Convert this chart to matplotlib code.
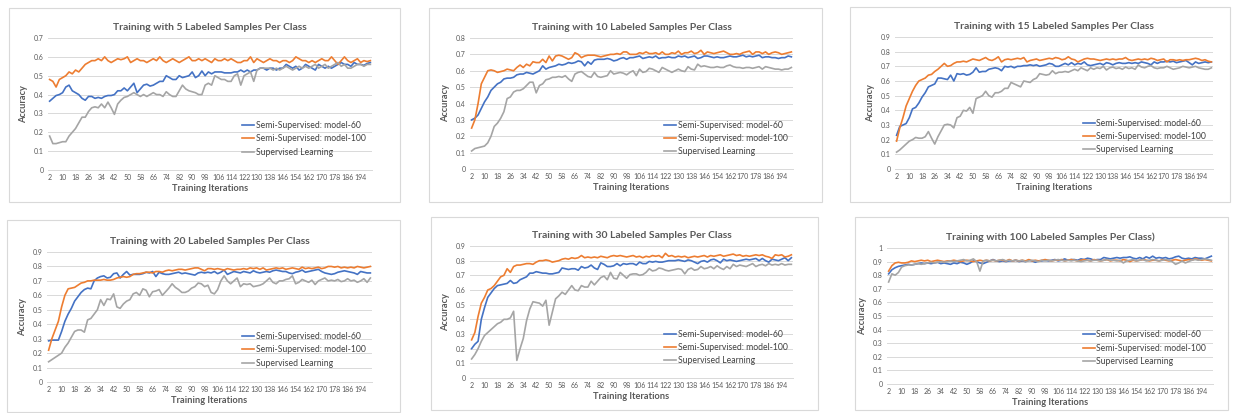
import numpy as np
import matplotlib
matplotlib.use("Agg")
import matplotlib.pyplot as plt
from matplotlib.patches import Rectangle

plt.rcParams['font.family'] = ['Lato', 'DejaVu Sans']

titles = ["Training with 5 Labeled Samples Per Class",
          "Training with 10 Labeled Samples Per Class",
          "Training with 15 Labeled Samples Per Class",
          "Training with 20 Labeled Samples Per Class",
          "Training with 30 Labeled Samples Per Class",
          "Training with 100 Labeled Samples Per Class)"]
series_names = ["Semi-Supervised: model-60", "Semi-Supervised: model-100", "Supervised Learning"]
y_tops = [0.7, 0.8, 0.9, 0.9, 0.9, 1.0]
x_label = "Training Iterations"
y_label = "Accuracy"

# ---- 5 labeled samples ----
m60_5 = [0.365,0.38,0.395,0.40,0.41,0.44,0.45,0.42,0.41,0.40,
         0.38,0.37,0.39,0.39,0.38,0.385,0.38,0.39,0.395,0.395,
         0.40,0.42,0.42,0.435,0.42,0.44,0.46,0.41,0.43,0.45,
         0.455,0.445,0.45,0.46,0.47,0.47,0.50,0.49,0.48,0.48,
         0.50,0.49,0.495,0.50,0.52,0.49,0.50,0.525,0.50,0.52,
         0.51,0.52,0.52,0.52,0.515,0.515,0.515,0.52,0.52,0.53,
         0.52,0.53,0.52,0.53,0.53,0.54,0.54,0.53,0.54,0.54,
         0.53,0.54,0.54,0.56,0.55,0.54,0.55,0.53,0.54,0.56,
         0.55,0.54,0.53,0.56,0.55,0.54,0.55,0.54,0.55,0.56,
         0.57,0.56,0.56,0.55,0.57,0.56,0.56,0.555,0.565,0.57]
m100_5 = [0.48,0.47,0.44,0.48,0.49,0.50,0.52,0.51,0.53,0.52,
          0.54,0.56,0.57,0.58,0.58,0.59,0.58,0.60,0.58,0.57,
          0.58,0.59,0.585,0.59,0.60,0.57,0.58,0.59,0.58,0.58,
          0.57,0.58,0.59,0.58,0.60,0.58,0.57,0.58,0.59,0.58,
          0.57,0.58,0.59,0.60,0.58,0.58,0.59,0.58,0.59,0.58,
          0.57,0.59,0.58,0.58,0.59,0.58,0.59,0.58,0.57,0.57,
          0.58,0.58,0.60,0.57,0.59,0.58,0.57,0.58,0.59,0.58,
          0.58,0.57,0.58,0.58,0.57,0.58,0.60,0.59,0.58,0.58,
          0.57,0.58,0.57,0.58,0.59,0.58,0.58,0.60,0.58,0.56,
          0.58,0.60,0.58,0.57,0.58,0.59,0.57,0.58,0.575,0.58]
sup_5 = [0.18,0.14,0.14,0.145,0.15,0.15,0.18,0.20,0.22,0.25,
         0.28,0.28,0.31,0.33,0.335,0.33,0.35,0.33,0.36,0.33,
         0.295,0.35,0.37,0.385,0.39,0.40,0.41,0.40,0.39,0.40,
         0.39,0.40,0.41,0.40,0.40,0.39,0.415,0.40,0.39,0.39,
         0.42,0.45,0.43,0.42,0.415,0.41,0.40,0.40,0.45,0.46,
         0.45,0.50,0.49,0.48,0.48,0.47,0.47,0.50,0.51,0.45,
         0.50,0.51,0.52,0.47,0.53,0.54,0.54,0.54,0.54,0.53,
         0.54,0.53,0.54,0.55,0.54,0.53,0.54,0.55,0.54,0.55,
         0.54,0.55,0.56,0.54,0.55,0.56,0.54,0.55,0.56,0.57,
         0.55,0.56,0.54,0.54,0.55,0.56,0.56,0.55,0.56,0.56]

# ---- 10 labeled samples ----
m60_10 = [0.30,0.31,0.33,0.37,0.41,0.44,0.48,0.50,0.52,0.53,
          0.55,0.555,0.555,0.56,0.575,0.58,0.58,0.59,0.585,0.58,
          0.59,0.60,0.63,0.61,0.62,0.625,0.63,0.64,0.635,0.64,
          0.65,0.645,0.65,0.66,0.655,0.63,0.655,0.64,0.665,0.67,
          0.67,0.67,0.675,0.67,0.66,0.665,0.675,0.68,0.67,0.68,
          0.68,0.685,0.69,0.675,0.68,0.685,0.68,0.69,0.675,0.68,
          0.68,0.685,0.68,0.68,0.69,0.685,0.69,0.68,0.685,0.69,
          0.675,0.68,0.69,0.69,0.685,0.68,0.685,0.68,0.68,0.685,
          0.69,0.685,0.685,0.69,0.695,0.685,0.69,0.685,0.69,0.695,
          0.68,0.685,0.685,0.68,0.68,0.675,0.68,0.68,0.69,0.685]
m100_10 = [0.25,0.30,0.40,0.52,0.56,0.60,0.605,0.60,0.59,0.595,
           0.60,0.61,0.605,0.60,0.62,0.635,0.62,0.64,0.63,0.655,
           0.65,0.65,0.67,0.65,0.69,0.66,0.69,0.695,0.69,0.68,
           0.67,0.68,0.71,0.70,0.68,0.69,0.695,0.695,0.695,0.69,
           0.685,0.69,0.695,0.70,0.70,0.705,0.70,0.715,0.715,0.70,
           0.70,0.70,0.71,0.705,0.715,0.705,0.705,0.71,0.70,0.715,
           0.70,0.70,0.71,0.705,0.72,0.70,0.71,0.71,0.72,0.705,
           0.71,0.725,0.70,0.715,0.71,0.705,0.71,0.715,0.72,0.71,
           0.70,0.70,0.705,0.70,0.71,0.715,0.72,0.70,0.715,0.715,
           0.705,0.715,0.70,0.71,0.715,0.71,0.70,0.705,0.71,0.715]
sup_10 = [0.11,0.125,0.13,0.135,0.14,0.16,0.20,0.26,0.28,0.31,
          0.35,0.43,0.44,0.47,0.48,0.48,0.49,0.51,0.53,0.53,
          0.465,0.51,0.52,0.545,0.55,0.56,0.56,0.565,0.56,0.57,
          0.55,0.535,0.58,0.59,0.595,0.58,0.565,0.56,0.59,0.565,
          0.56,0.565,0.57,0.60,0.58,0.585,0.59,0.585,0.575,0.59,
          0.60,0.57,0.61,0.59,0.595,0.615,0.61,0.60,0.59,0.62,
          0.61,0.60,0.59,0.60,0.61,0.60,0.595,0.625,0.61,0.605,
          0.64,0.625,0.63,0.625,0.62,0.62,0.625,0.62,0.62,0.63,
          0.635,0.625,0.62,0.62,0.615,0.62,0.62,0.615,0.62,0.625,
          0.61,0.625,0.62,0.615,0.61,0.61,0.605,0.61,0.61,0.62]

# ---- 15 labeled samples ----
m60_15 = [0.23,0.29,0.30,0.31,0.35,0.41,0.42,0.45,0.49,0.52,
          0.56,0.57,0.58,0.62,0.62,0.615,0.61,0.64,0.60,0.65,
          0.645,0.65,0.64,0.645,0.66,0.69,0.66,0.665,0.665,0.68,
          0.685,0.69,0.685,0.67,0.70,0.695,0.70,0.69,0.70,0.70,
          0.705,0.705,0.71,0.705,0.71,0.70,0.705,0.71,0.72,0.715,
          0.70,0.70,0.71,0.72,0.71,0.725,0.71,0.72,0.715,0.73,
          0.71,0.705,0.71,0.715,0.72,0.71,0.725,0.72,0.71,0.72,
          0.725,0.72,0.72,0.725,0.72,0.725,0.72,0.73,0.725,0.72,
          0.71,0.73,0.72,0.73,0.73,0.735,0.73,0.735,0.725,0.73,
          0.735,0.74,0.725,0.71,0.73,0.72,0.725,0.73,0.725,0.73]
m100_15 = [0.19,0.28,0.35,0.43,0.48,0.53,0.57,0.60,0.61,0.62,
           0.64,0.645,0.665,0.68,0.70,0.72,0.70,0.705,0.72,0.73,
           0.73,0.735,0.73,0.74,0.75,0.745,0.74,0.75,0.76,0.745,
           0.74,0.75,0.765,0.73,0.745,0.75,0.745,0.75,0.755,0.75,
           0.76,0.73,0.74,0.745,0.75,0.74,0.745,0.75,0.755,0.75,
           0.76,0.755,0.745,0.75,0.765,0.75,0.745,0.73,0.74,0.75,
           0.755,0.75,0.75,0.745,0.74,0.745,0.75,0.745,0.75,0.745,
           0.75,0.75,0.76,0.745,0.74,0.745,0.75,0.745,0.75,0.745,
           0.755,0.75,0.74,0.745,0.75,0.73,0.745,0.745,0.74,0.745,
           0.74,0.745,0.745,0.75,0.755,0.75,0.74,0.745,0.735,0.73]
sup_15 = [0.115,0.13,0.15,0.17,0.19,0.20,0.215,0.21,0.21,0.22,
          0.255,0.21,0.17,0.22,0.26,0.30,0.305,0.30,0.28,0.35,
          0.36,0.40,0.395,0.42,0.38,0.48,0.49,0.50,0.53,0.50,
          0.49,0.52,0.52,0.53,0.55,0.55,0.59,0.58,0.57,0.56,
          0.60,0.595,0.59,0.61,0.62,0.65,0.645,0.64,0.645,0.67,
          0.65,0.66,0.66,0.665,0.66,0.67,0.68,0.67,0.69,0.68,
          0.67,0.69,0.68,0.69,0.685,0.70,0.675,0.69,0.695,0.685,
          0.69,0.68,0.695,0.685,0.69,0.68,0.71,0.695,0.69,0.70,
          0.705,0.69,0.685,0.69,0.69,0.70,0.69,0.68,0.685,0.69,
          0.70,0.695,0.69,0.695,0.70,0.69,0.685,0.68,0.68,0.69]

# ---- 20 labeled samples ----
m60_20 = [0.285,0.29,0.29,0.29,0.35,0.42,0.47,0.51,0.56,0.59,
          0.62,0.64,0.65,0.645,0.70,0.72,0.73,0.735,0.72,0.725,
          0.75,0.755,0.72,0.745,0.765,0.74,0.745,0.745,0.745,0.75,
          0.76,0.755,0.765,0.73,0.76,0.75,0.745,0.745,0.75,0.755,
          0.76,0.75,0.755,0.75,0.745,0.74,0.755,0.76,0.755,0.76,
          0.755,0.765,0.75,0.76,0.775,0.745,0.755,0.765,0.76,0.755,
          0.765,0.76,0.755,0.77,0.76,0.755,0.76,0.765,0.76,0.77,
          0.775,0.77,0.765,0.765,0.755,0.75,0.76,0.765,0.775,0.76,
          0.765,0.77,0.775,0.78,0.765,0.755,0.75,0.745,0.75,0.76,
          0.765,0.77,0.765,0.76,0.755,0.745,0.765,0.76,0.755,0.755]
m100_20 = [0.22,0.30,0.36,0.42,0.52,0.60,0.645,0.65,0.655,0.67,
           0.685,0.69,0.70,0.70,0.705,0.705,0.705,0.71,0.705,0.705,
           0.71,0.72,0.725,0.73,0.725,0.73,0.745,0.75,0.75,0.755,
           0.76,0.76,0.755,0.765,0.765,0.76,0.77,0.775,0.77,0.775,
           0.78,0.78,0.775,0.78,0.785,0.79,0.79,0.78,0.77,0.785,
           0.785,0.78,0.785,0.78,0.775,0.785,0.78,0.775,0.78,0.78,
           0.785,0.78,0.79,0.785,0.79,0.78,0.79,0.775,0.78,0.785,
           0.79,0.785,0.79,0.78,0.785,0.79,0.785,0.78,0.795,0.785,
           0.79,0.785,0.79,0.795,0.785,0.79,0.80,0.80,0.795,0.80,
           0.79,0.795,0.79,0.795,0.79,0.80,0.795,0.79,0.795,0.80]
sup_20 = [0.14,0.155,0.17,0.185,0.20,0.24,0.27,0.31,0.35,0.36,
          0.36,0.345,0.43,0.44,0.47,0.50,0.57,0.53,0.575,0.57,
          0.61,0.52,0.51,0.54,0.56,0.57,0.61,0.62,0.60,0.645,
          0.635,0.59,0.625,0.63,0.64,0.60,0.625,0.65,0.68,0.655,
          0.64,0.62,0.62,0.63,0.65,0.66,0.685,0.68,0.66,0.67,
          0.62,0.61,0.64,0.70,0.735,0.70,0.68,0.70,0.72,0.66,
          0.68,0.675,0.68,0.66,0.665,0.67,0.68,0.70,0.72,0.69,
          0.68,0.70,0.70,0.71,0.715,0.735,0.68,0.69,0.71,0.70,
          0.69,0.705,0.675,0.70,0.71,0.72,0.70,0.705,0.70,0.71,
          0.695,0.70,0.715,0.70,0.705,0.69,0.70,0.715,0.69,0.72]

# ---- 30 labeled samples ----
m60_30 = [0.20,0.23,0.25,0.40,0.48,0.55,0.58,0.61,0.63,0.635,
          0.64,0.645,0.665,0.645,0.65,0.67,0.68,0.69,0.715,0.715,
          0.725,0.72,0.715,0.715,0.71,0.71,0.715,0.72,0.75,0.745,
          0.74,0.745,0.745,0.735,0.76,0.75,0.755,0.77,0.75,0.74,
          0.785,0.775,0.76,0.76,0.765,0.78,0.765,0.78,0.775,0.78,
          0.78,0.77,0.79,0.78,0.78,0.795,0.79,0.795,0.79,0.79,
          0.795,0.80,0.80,0.80,0.805,0.80,0.795,0.805,0.80,0.79,
          0.78,0.795,0.80,0.79,0.805,0.81,0.80,0.785,0.81,0.80,
          0.805,0.80,0.795,0.80,0.805,0.81,0.805,0.81,0.815,0.80,
          0.815,0.80,0.79,0.81,0.805,0.80,0.81,0.82,0.80,0.82]
m100_30 = [0.26,0.31,0.42,0.51,0.55,0.60,0.61,0.63,0.66,0.69,
           0.70,0.745,0.72,0.76,0.77,0.77,0.775,0.78,0.78,0.775,
           0.79,0.80,0.80,0.805,0.80,0.79,0.795,0.80,0.81,0.815,
           0.81,0.82,0.815,0.82,0.835,0.82,0.825,0.82,0.825,0.82,
           0.83,0.825,0.82,0.83,0.835,0.83,0.835,0.83,0.825,0.83,
           0.835,0.825,0.83,0.82,0.83,0.825,0.835,0.83,0.835,0.82,
           0.85,0.83,0.835,0.825,0.83,0.825,0.83,0.82,0.825,0.83,
           0.825,0.83,0.835,0.825,0.835,0.83,0.835,0.84,0.83,0.835,
           0.84,0.845,0.835,0.84,0.83,0.835,0.83,0.835,0.84,0.835,
           0.84,0.83,0.825,0.815,0.84,0.835,0.84,0.825,0.83,0.84]
sup_30 = [0.13,0.16,0.20,0.25,0.29,0.31,0.33,0.35,0.37,0.38,
          0.40,0.40,0.41,0.455,0.12,0.20,0.27,0.39,0.47,0.52,
          0.515,0.51,0.49,0.53,0.36,0.45,0.54,0.56,0.585,0.57,
          0.60,0.63,0.60,0.595,0.63,0.62,0.62,0.66,0.635,0.66,
          0.685,0.695,0.67,0.72,0.68,0.675,0.72,0.70,0.68,0.705,
          0.71,0.71,0.70,0.705,0.72,0.745,0.73,0.735,0.75,0.745,
          0.735,0.73,0.735,0.74,0.745,0.74,0.71,0.74,0.75,0.735,
          0.74,0.76,0.745,0.75,0.76,0.745,0.765,0.75,0.74,0.76,
          0.745,0.775,0.76,0.77,0.765,0.76,0.77,0.78,0.76,0.77,
          0.775,0.765,0.78,0.77,0.775,0.77,0.78,0.77,0.775,0.775]

# ---- 100 labeled samples ----
m60_100 = [0.81,0.84,0.855,0.865,0.87,0.875,0.88,0.875,0.88,0.885,
           0.89,0.885,0.89,0.885,0.89,0.895,0.885,0.89,0.885,0.88,
           0.89,0.885,0.895,0.89,0.88,0.89,0.905,0.90,0.89,0.885,
           0.895,0.905,0.915,0.905,0.90,0.905,0.90,0.905,0.905,0.91,
           0.90,0.905,0.90,0.91,0.905,0.895,0.905,0.905,0.91,0.905,
           0.91,0.915,0.905,0.91,0.92,0.91,0.915,0.915,0.91,0.92,
           0.915,0.925,0.92,0.91,0.915,0.915,0.93,0.925,0.92,0.925,
           0.93,0.925,0.93,0.93,0.935,0.925,0.92,0.93,0.92,0.935,
           0.925,0.94,0.925,0.93,0.925,0.93,0.92,0.925,0.935,0.94,
           0.925,0.92,0.925,0.92,0.93,0.925,0.925,0.92,0.93,0.94]
m100_100 = [0.83,0.87,0.89,0.895,0.89,0.89,0.895,0.905,0.90,0.905,
            0.91,0.905,0.91,0.90,0.905,0.91,0.905,0.90,0.905,0.905,
            0.91,0.905,0.90,0.905,0.91,0.905,0.90,0.905,0.91,0.905,
            0.91,0.905,0.91,0.905,0.91,0.91,0.905,0.915,0.905,0.91,
            0.905,0.91,0.905,0.915,0.905,0.91,0.905,0.91,0.915,0.91,
            0.905,0.91,0.91,0.915,0.905,0.91,0.915,0.91,0.905,0.91,
            0.915,0.91,0.905,0.915,0.91,0.905,0.91,0.915,0.905,0.91,
            0.91,0.905,0.915,0.91,0.90,0.91,0.905,0.91,0.915,0.91,
            0.905,0.91,0.91,0.905,0.915,0.91,0.905,0.91,0.915,0.91,
            0.905,0.91,0.915,0.91,0.92,0.915,0.91,0.915,0.91,0.905]
sup_100 = [0.75,0.81,0.80,0.82,0.86,0.87,0.875,0.875,0.88,0.885,
           0.88,0.885,0.89,0.895,0.89,0.895,0.90,0.895,0.90,0.905,
           0.90,0.905,0.91,0.915,0.905,0.91,0.92,0.90,0.83,0.905,
           0.91,0.905,0.91,0.905,0.91,0.915,0.905,0.91,0.905,0.91,
           0.905,0.91,0.90,0.905,0.91,0.905,0.90,0.91,0.905,0.91,
           0.905,0.91,0.915,0.91,0.905,0.91,0.905,0.91,0.905,0.90,
           0.905,0.91,0.905,0.91,0.91,0.905,0.91,0.915,0.91,0.91,
           0.905,0.91,0.89,0.905,0.91,0.915,0.905,0.91,0.915,0.905,
           0.91,0.915,0.91,0.905,0.91,0.915,0.91,0.90,0.88,0.89,
           0.905,0.89,0.90,0.91,0.915,0.91,0.915,0.92,0.915,0.91]

panels = [(m60_5, m100_5, sup_5), (m60_10, m100_10, sup_10), (m60_15, m100_15, sup_15),
          (m60_20, m100_20, sup_20), (m60_30, m100_30, sup_30), (m60_100, m100_100, sup_100)]

colors = ['#4472C4', '#ED7D31', '#A5A5A5']
TXT = '#595959'
W, H = 1235, 413

fig = plt.figure(figsize=(W / 100, H / 100), dpi=100)
fig.patch.set_facecolor('white')

# (frame l, r, t, b), (axes l, r, t, b) in pixels
frames = [(9, 400, 8, 202), (429, 822, 8, 202), (850, 1230, 7, 202),
          (7, 400, 220, 412), (431, 818, 217, 410), (855, 1228, 217, 410)]
axboxes = [(48, 372, 38, 170), (470, 793, 38, 169), (895, 1213, 37, 169),
           (47, 372, 252, 382), (470, 793, 246, 378), (887, 1213, 248, 384)]
leg_anchor = [(0.60, 0.37), (0.60, 0.37), (0.59, 0.38),
              (0.60, 0.385), (0.60, 0.365), (0.60, 0.395)]

for i, (series, title, top) in enumerate(zip(panels, titles, y_tops)):
    fl, fr, ft, fb = frames[i]
    fig.patches.append(Rectangle((fl / W, 1 - fb / H), (fr - fl) / W, (fb - ft) / H,
                                 transform=fig.transFigure, fill=False,
                                 ec='#D9D9D9', lw=0.8))
    l, r, t, b = axboxes[i]
    ax = fig.add_axes([l / W, 1 - b / H, (r - l) / W, (b - t) / H])
    for vals, name, c in zip(series, series_names, colors):
        x = np.arange(2, 2 * len(vals) + 1, 2)
        ax.plot(x, vals, color=c, lw=1.2, label=name, solid_joinstyle='round')
    ax.set_xlim(1, 201)
    ax.set_ylim(0, top)
    yt = np.round(np.arange(0, top + 0.001, 0.1), 1)
    ax.set_yticks(yt)
    ax.set_yticklabels(['0' if v == 0 else ('1' if v == 1 else f'{v:.1f}') for v in yt])
    ax.set_xticks(np.arange(2, 195, 8))
    ax.grid(axis='y', color='#D9D9D9', lw=0.7)
    ax.set_axisbelow(True)
    for s in ['top', 'right', 'left']:
        ax.spines[s].set_visible(False)
    ax.spines['bottom'].set_color('#D9D9D9')
    ax.spines['bottom'].set_linewidth(0.7)
    ax.tick_params(length=0, labelsize=5, colors=TXT, pad=3)
    ax.set_title(title, fontsize=7.5, fontweight='bold', color=TXT, pad=5.5)
    ax.set_xlabel(x_label, fontsize=6.7, fontweight='bold', color=TXT, labelpad=2)
    ax.set_ylabel(y_label, fontsize=6.7, fontweight='bold', color=TXT, labelpad=4)
    ax.legend(loc='upper left', bbox_to_anchor=leg_anchor[i], frameon=False,
              fontsize=6.2, handlelength=1.4, handletextpad=0.2, labelspacing=0.5,
              borderpad=0, borderaxespad=0, labelcolor='#404040')

fig.savefig('out.png', dpi=100, facecolor='white')
